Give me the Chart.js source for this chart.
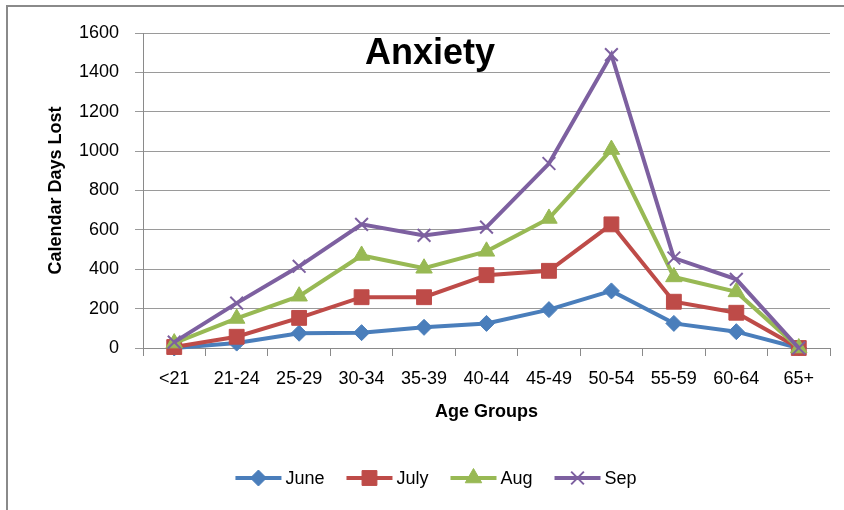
<!DOCTYPE html>
<html>
<head>
<meta charset="utf-8">
<script src="https://cdn.jsdelivr.net/npm/chart.js@4/dist/chart.umd.min.js"></script>
<style>
    html, body { margin: 0; padding: 0; background: #fff; }
    #wrap { width: 844px; height: 510px; }
</style>
</head>
<body>
<div id="wrap"><canvas id="grafico" width="844" height="510"></canvas></div>
<script>
const faixas = ['<21', '21-24', '25-29', '30-34', '35-39', '40-44', '45-49', '50-54', '55-59', '60-64', '65+'];
const june = [0, 25, 75, 78, 105, 125, 195, 290, 125, 83, 0];
const july = [5, 57, 153, 258, 258, 370, 392, 628, 235, 179, 0];
const aug = [25, 150, 263, 470, 405, 491, 658, 1008, 361, 285, 0];
const sep = [30, 228, 415, 628, 572, 614, 937, 1490, 457, 349, 0];
const yMax = 1600, yPasso = 200;

const fonte = '"Liberation Sans", Arial, sans-serif';

// moldura, titulo e legenda desenhados a mao
const moldura = {
    id: 'moldura',
    beforeDraw(chart) {
        const ctx = chart.ctx;
        ctx.save();
        ctx.fillStyle = '#fff';
        ctx.fillRect(0, 0, chart.width, chart.height);
        ctx.strokeStyle = '#8a8a8a';
        ctx.lineWidth = 2;
        ctx.beginPath();
        ctx.moveTo(7, chart.height);
        ctx.lineTo(7, 6);
        ctx.lineTo(chart.width, 6);
        ctx.stroke();
        ctx.restore();
    },
    afterDraw(chart) {
        const ctx = chart.ctx;
        ctx.save();
        ctx.fillStyle = '#000';
        ctx.font = 'bold 36px ' + fonte;
        ctx.textAlign = 'center';
        ctx.textBaseline = 'alphabetic';
        ctx.fillText('Anxiety', 430, 64);

        ctx.font = '18px ' + fonte;
        ctx.textAlign = 'left';
        ctx.textBaseline = 'middle';
        const linha = 46, gap = 4, espaco = 22;
        const itens = chart.data.datasets.map(ds => ({ ds, w: linha + gap + ctx.measureText(ds.label).width }));
        const total = itens.reduce((s, i) => s + i.w, 0) + espaco * (itens.length - 1);
        let x = 436 - total / 2;
        const y = 478;
        itens.forEach(({ ds, w }) => {
            ctx.strokeStyle = ds.borderColor;
            ctx.lineWidth = 4;
            ctx.beginPath();
            ctx.moveTo(x, y);
            ctx.lineTo(x + linha, y);
            ctx.stroke();
            ctx.fillStyle = ds.pointBackgroundColor;
            ctx.strokeStyle = ds.pointBorderColor;
            ctx.lineWidth = ds.pointBorderWidth;
            Chart.helpers.drawPoint(ctx, { pointStyle: ds.pointStyle, radius: ds.pointRadius, borderWidth: ds.pointBorderWidth, rotation: 0 }, x + linha / 2, y);
            ctx.fillStyle = '#000';
            ctx.fillText(ds.label, x + linha + gap, y + 1);
            x += w + espaco;
        });
        ctx.restore();
    }
};

function serie(label, dados, cor, estilo, raio, borda, ordem) {
    return {
        label, data: dados,
        borderColor: cor, backgroundColor: cor,
        borderWidth: 4, tension: 0,
        pointStyle: estilo, pointRadius: raio, pointHoverRadius: raio,
        pointBackgroundColor: cor, pointBorderColor: cor, pointBorderWidth: borda,
        order: ordem, clip: false
    };
}

new Chart(document.getElementById('grafico').getContext('2d'), {
    type: 'line',
    data: {
        labels: faixas,
        datasets: [
            serie('June', june, '#4a7ebb', 'rectRot', 8, 1, 4),
            serie('July', july, '#be4b48', 'rect', 10.5, 1, 3),
            serie('Aug', aug, '#98b954', 'triangle', 9.5, 1, 2),
            serie('Sep', sep, '#7d60a0', 'crossRot', 9, 2, 1)
        ]
    },
    options: {
        responsive: false,
        devicePixelRatio: 1,
        animation: false,
        layout: { padding: { top: 33, right: 14, left: 0, bottom: 85 } },
        plugins: { legend: { display: false }, title: { display: false }, tooltip: { enabled: false } },
        scales: {
            x: {
                offset: true,
                afterFit: s => { s.height = 77; },
                grid: { offset: true, drawOnChartArea: false, drawTicks: true, tickLength: 8, color: '#8a8a8a' },
                border: { color: '#8a8a8a', width: 1 },
                ticks: { color: '#000', font: { family: fonte, size: 18 }, padding: 12, maxRotation: 0, autoSkip: false },
                title: { display: true, text: 'Age Groups', color: '#000', font: { family: fonte, size: 18, weight: 'bold' }, padding: { top: 2, bottom: 2 } }
            },
            y: {
                min: 0, max: yMax,
                afterFit: s => { s.width = 143; },
                grid: { color: '#9a9a9a', lineWidth: 1, tickLength: 8 },
                border: { color: '#8a8a8a', width: 1 },
                ticks: { stepSize: yPasso, color: '#000', font: { family: fonte, size: 18 }, padding: 16, callback: v => String(v) },
                title: { display: true, text: 'Calendar Days Lost', color: '#000', font: { family: fonte, size: 18, weight: 'bold' }, padding: { top: 45, bottom: 45 } }
            }
        }
    },
    plugins: [moldura]
});
</script>
</body>
</html>
